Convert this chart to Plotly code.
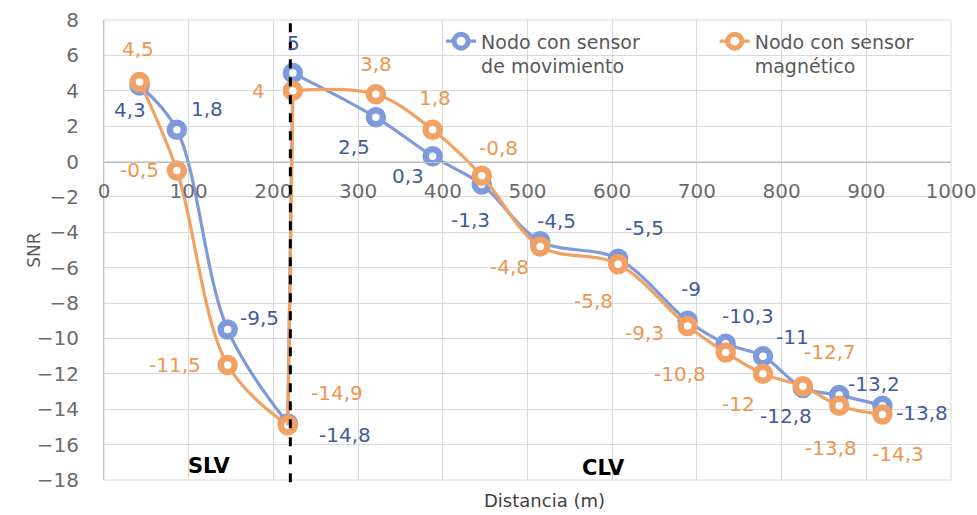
import plotly.graph_objects as go

# Distance along the route (m) and SNR for each node type
distancia = [42, 86, 146, 217, 223, 321, 388, 446, 515, 607, 689, 734, 778, 825, 868, 919]
snr_movimiento = [4.3, 1.8, -9.5, -14.8, 5, 2.5, 0.3, -1.3, -4.5, -5.5, -9, -10.3, -11, -12.8, -13.2, -13.8]
snr_magnetico = [4.5, -0.5, -11.5, -14.9, 4, 3.8, 1.8, -0.8, -4.8, -5.8, -9.3, -10.8, -12, -12.7, -13.8, -14.3]

nombre_mov = "Nodo con sensor<br>de movimiento"
nombre_mag = "Nodo con sensor<br>magnético"

x_ticks = list(range(0, 1001, 100))
y_ticks = list(range(-18, 9, 2))
limite_zona = 220  # boundary between SLV and CLV sections
n_slv = 4          # number of points measured in the SLV section

# label offsets (px) next to each point
off_mov = [(-10, -25), (30, 21), (32, 12), (57, -12), (1, 30), (-22, -30), (-25, -20), (-11, -35),
           (16, 20), (26, 31), (3, 32), (22, 28), (30, 19), (-17, -28), (35, 11), (40, -7)]
off_mag = [(-2, 33), (-37, 0), (-53, 0), (49, 32), (-34, 0), (0, 30), (2, 32), (17, 28),
           (-31, -21), (-25, -37), (-43, -7), (-46, -21), (-24, -30), (27, 34), (-8, -42), (16, -39)]

AZUL = "#7D9BDA"
NARANJA = "#F0A163"
AZUL_TXT = "#3F5C9E"
NARANJA_TXT = "#EE9650"
FUENTE = "DejaVu Sans"


def fmt(v):
    return f"{v:g}".replace(".", ",")


fig = go.Figure()
series = [("mov", "legend", nombre_mov, snr_movimiento, AZUL),
          ("mag", "legend2", nombre_mag, snr_magnetico, NARANJA)]
for grupo, ley, nombre, ys, col in series:
    linea = dict(color=col, width=3.2, shape="spline", smoothing=1)
    marca = dict(symbol="circle", size=14, color="#FFFFFF", line=dict(color=col, width=6.5))
    # SLV section (smoothed)
    fig.add_trace(go.Scatter(
        x=distancia[:n_slv], y=ys[:n_slv], name=nombre, legendgroup=grupo, legend=ley,
        showlegend=True, mode="lines+markers", line=linea, marker=marca))
    # jump across the section boundary (straight)
    fig.add_trace(go.Scatter(
        x=distancia[n_slv - 1:n_slv + 1], y=ys[n_slv - 1:n_slv + 1], legendgroup=grupo, legend=ley,
        showlegend=False, mode="lines", line=dict(color=col, width=3.2), hoverinfo="skip"))
    # CLV section (smoothed)
    fig.add_trace(go.Scatter(
        x=distancia[n_slv:], y=ys[n_slv:], name=nombre, legendgroup=grupo, legend=ley,
        showlegend=False, mode="lines+markers", line=linea, marker=marca))

anots = []
for ys, offs, col in [(snr_movimiento, off_mov, AZUL_TXT), (snr_magnetico, off_mag, NARANJA_TXT)]:
    for xv, yv, (dx, dy) in zip(distancia, ys, offs):
        anots.append(dict(x=xv, y=yv, xref="x", yref="y", text=fmt(yv), showarrow=False,
                          xshift=dx, yshift=dy, font=dict(family=FUENTE, size=20, color=col)))

# section labels
anots.append(dict(x=125, y=-17.2, xref="x", yref="y", text="<b>SLV</b>", showarrow=False,
                  font=dict(family=FUENTE, size=21, color="#000000")))
anots.append(dict(x=590, y=-17.3, xref="x", yref="y", text="<b>CLV</b>", showarrow=False,
                  font=dict(family=FUENTE, size=21, color="#000000")))
# axis titles
anots.append(dict(x=-0.097, y=0.5, xref="paper", yref="paper", text="SNR", textangle=-90,
                  showarrow=False, font=dict(family=FUENTE, size=17, color="#595959")))
anots.append(dict(x=0.52, y=-0.045, xref="paper", yref="paper", text="Distancia (m)",
                  showarrow=False, yanchor="middle", font=dict(family=FUENTE, size=18, color="#404040")))

estilo_ley = dict(orientation="v", y=0.995, xanchor="left", yanchor="top",
                  bgcolor="rgba(0,0,0,0)", valign="top",
                  font=dict(family=FUENTE, size=19, color="#595959"))

fig.update_layout(
    width=977, height=515,
    margin=dict(l=104, r=26, t=20, b=35),
    paper_bgcolor="#FFFFFF", plot_bgcolor="#FFFFFF",
    font=dict(family=FUENTE, color="#666666"),
    showlegend=True,
    legend=dict(x=0.398, **estilo_ley),
    legend2=dict(x=0.721, **estilo_ley),
    xaxis=dict(range=[0, 1000], tickvals=x_ticks, showgrid=True, gridcolor="#D9D9D9", gridwidth=1,
               zeroline=False, showline=True, linecolor="#BFBFBF", linewidth=1, automargin=False,
               anchor="free", position=18 / 26, ticks="outside", ticklen=11,
               tickcolor="rgba(0,0,0,0)", tickfont=dict(family=FUENTE, size=20, color="#6B6B6B")),
    yaxis=dict(range=[-18, 8], tickvals=y_ticks, showgrid=True, gridcolor="#D9D9D9", gridwidth=1,
               zeroline=False, showline=True, linecolor="#BFBFBF", linewidth=1, automargin=False,
               ticks="outside", ticklen=20, tickcolor="rgba(0,0,0,0)",
               tickfont=dict(family=FUENTE, size=20, color="#6B6B6B")),
    annotations=anots,
    shapes=[
        dict(type="rect", xref="paper", yref="paper", x0=0, x1=1, y0=0, y1=1,
             line=dict(color="#D9D9D9", width=1), layer="below"),
        dict(type="line", xref="x", yref="paper", x0=limite_zona, x1=limite_zona, y0=-0.005, y1=1,
             line=dict(color="#000000", width=3, dash="dash"), layer="above"),
    ],
)

fig.write_html("out.html")
